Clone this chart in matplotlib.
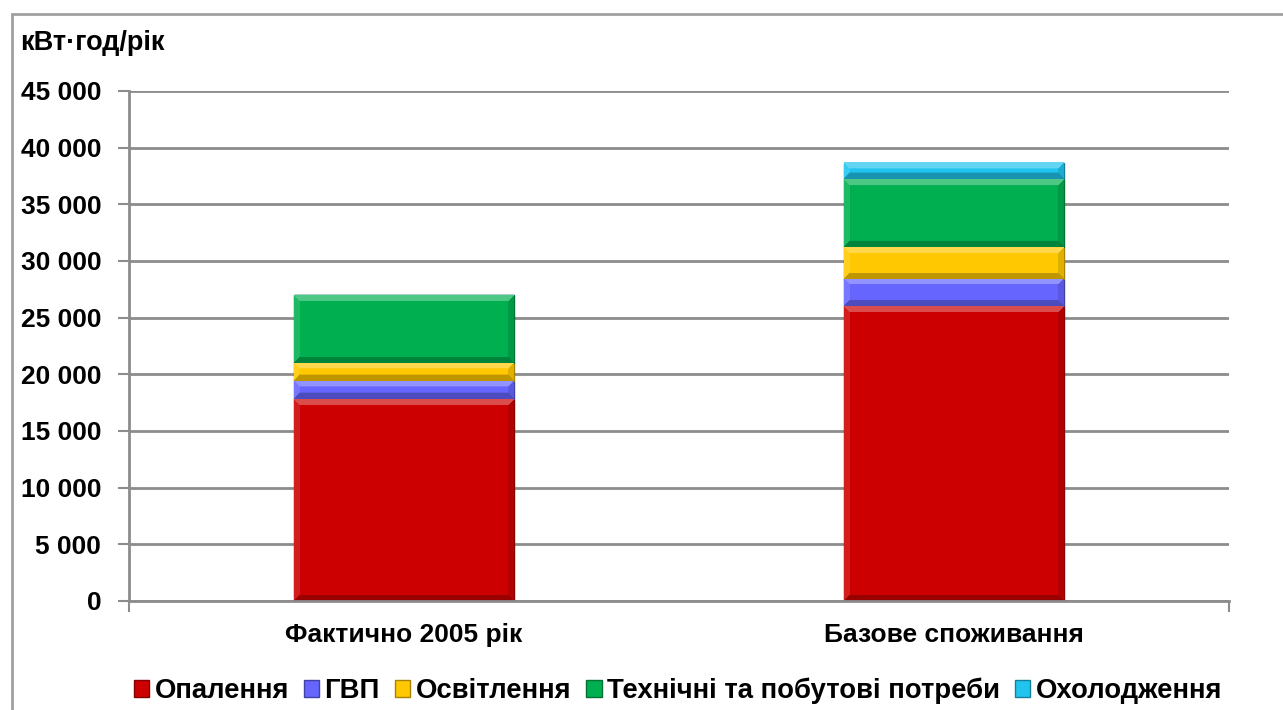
import numpy as np
import matplotlib
matplotlib.use("Agg")
import matplotlib.pyplot as plt
from matplotlib.patches import Patch, Rectangle
from matplotlib.ticker import FuncFormatter, FixedLocator
from matplotlib.colors import to_rgb

plt.rcParams['font.family'] = ['Liberation Sans', 'DejaVu Sans']
plt.rcParams['font.weight'] = 'bold'

# ---- data ----
categories = ["Фактично 2005 рік", "Базове споживання"]
series_names = ["Опалення", "ГВП", "Освітлення", "Технічні та побутові потреби", "Охолодження"]
heating = [17800, 26000]
hot_water = [1600, 2450]
lighting = [1600, 2800]
appliances = [6000, 5950]
cooling = [0, 1450]
y_ticks = [0, 5000, 10000, 15000, 20000, 25000, 30000, 35000, 40000, 45000]
y_unit = "кВт·год/рік"

series_values = [heating, hot_water, lighting, appliances, cooling]
colors = ["#CC0000", "#6666FF", "#FFC800", "#00B050", "#20C4EE"]

W, H = 1283, 710
fig = plt.figure(figsize=(W / 100, H / 100), dpi=100)
ax = fig.add_axes([129 / W, 1 - 601 / H, (1229 - 129) / W, (601 - 91) / H])

x = np.arange(len(categories))
ax.set_xlim(-0.5, len(categories) - 0.5)
ax.set_ylim(y_ticks[0], y_ticks[-1])

def mix(c, target, t):
    c = np.array(to_rgb(c)); target = np.array(target, dtype=float)
    return c * (1 - t) + target * t

bottoms = np.zeros(len(categories))
fig.canvas.draw()
for vals, col in zip(series_values, colors):
    vals = np.array(vals, dtype=float)
    bars = ax.bar(x, vals, width=0.4, bottom=bottoms, color=col,
                  edgecolor=mix(col, (0, 0, 0), 0.35), linewidth=1.0, zorder=3)
    for rect, v in zip(bars, vals):
        if v <= 0:
            continue
        x0, y0 = rect.get_x(), rect.get_y()
        w, h = rect.get_width(), rect.get_height()
        p0 = ax.transData.transform((x0, y0))
        p1 = ax.transData.transform((x0 + w, y0 + h))
        pw, ph = int(round(p1[0] - p0[0])), int(round(p1[1] - p0[1]))
        if pw < 2 or ph < 2:
            continue
        yy, xx = np.mgrid[0:ph, 0:pw]
        dt = yy + 0.5
        db = ph - yy - 0.5
        dl = xx + 0.5
        dr = pw - xx - 0.5
        b = 6.0
        img = np.zeros((ph, pw, 3))
        img[:] = np.array(to_rgb(col))
        dmin = np.minimum(np.minimum(dt, db), np.minimum(dl, dr))
        inb = dmin < b
        top = inb & (dt == dmin)
        bot = inb & (db == dmin) & ~top
        lef = inb & (dl == dmin) & ~top & ~bot
        rig = inb & (dr == dmin) & ~top & ~bot & ~lef
        img[top] = mix(col, (1, 1, 1), 0.3)
        img[bot] = mix(col, (0, 0, 0), 0.25)
        img[lef] = mix(col, (1, 1, 1), 0.12)
        img[rig] = mix(col, (0, 0, 0), 0.12)
        ax.imshow(img, extent=[x0, x0 + w, y0, y0 + h], aspect='auto',
                  interpolation='bilinear', zorder=3.5, origin='upper')
    bottoms = bottoms + vals

ax.set_xlim(-0.5, len(categories) - 0.5)
ax.set_ylim(y_ticks[0], y_ticks[-1])
ax.set_aspect('auto')

fs = 19
grid_c = "#8C8C8C"
ax.set_yticks(y_ticks)
ax.yaxis.set_major_formatter(FuncFormatter(lambda v, p: f"{int(v):,}".replace(",", " ")))
ax.yaxis.grid(True, color=grid_c, linewidth=2, zorder=0)
ax.set_axisbelow(True)
ax.tick_params(axis='y', length=8, width=1.5, color=grid_c, pad=12,
               labelsize=fs)
ax.set_xticks(x)
ax.set_xticklabels(categories)
ax.xaxis.set_minor_locator(FixedLocator([-0.5, len(categories) - 0.5]))
ax.tick_params(axis='x', which='major', length=0, pad=16, labelsize=fs)
ax.tick_params(axis='x', which='minor', length=8, width=1.5, color=grid_c)
for lab in ax.get_xticklabels() + ax.get_yticklabels():
    lab.set_fontweight('bold')

for s in ['top', 'right']:
    ax.spines[s].set_visible(False)
for s in ['left', 'bottom']:
    ax.spines[s].set_color(grid_c)
    ax.spines[s].set_linewidth(2)
    ax.spines[s].set_zorder(5)

fig.text(20 / W, 1 - 43 / H, y_unit, fontsize=19.5, fontweight='bold',
         ha='left', va='center')

handles = [Patch(facecolor=c, edgecolor=mix(c, (0, 0, 0), 0.35), linewidth=1) for c in colors]
fig.legend(handles, series_names, loc='center', bbox_to_anchor=(678 / W, 1 - 691 / H),
           ncol=5, frameon=False, prop={'weight': 'bold', 'size': 19.8},
           handlelength=0.55, handleheight=0.55, handletextpad=0.2,
           columnspacing=0.55, borderaxespad=0, borderpad=0)

fig.patches.append(Rectangle((12 / W, -0.1), 1.2, 1 - 14 / H + 0.1,
                             transform=fig.transFigure, fill=False,
                             edgecolor="#A0A0A0", linewidth=2, zorder=0))

fig.savefig("out.png", dpi=100)
